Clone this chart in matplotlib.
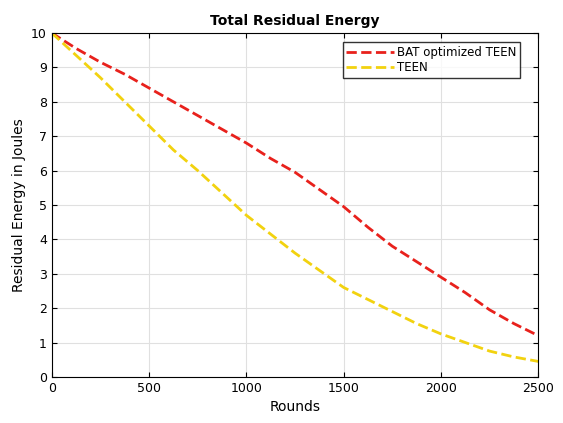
import matplotlib; matplotlib.use("Agg")
import matplotlib.pyplot as plt

rounds = [0, 125, 250, 375, 500, 625, 750, 875, 1000, 1125, 1250, 1375, 1500, 1625, 1750, 1875, 2000, 2125, 2250, 2375, 2500]
bat_teen = [10.0, 9.55, 9.15, 8.8, 8.4, 8.0, 7.6, 7.2, 6.8, 6.35, 5.95, 5.45, 4.95, 4.35, 3.8, 3.35, 2.9, 2.45, 1.95, 1.55, 1.2]
teen = [10.0, 9.35, 8.7, 8.0, 7.3, 6.6, 6.0, 5.35, 4.7, 4.15, 3.6, 3.1, 2.6, 2.25, 1.9, 1.55, 1.25, 1.0, 0.75, 0.58, 0.45]

fig = plt.figure(figsize=(5.63, 4.23), dpi=100)
ax = fig.add_axes([0.092, 0.109, 0.864, 0.813])
ax.plot(rounds, bat_teen, '--', color='#e8211c', lw=2, label='BAT optimized TEEN')
ax.plot(rounds, teen, '--', color='#f2d20f', lw=2, label='TEEN')
ax.set_xlim(0, 2500); ax.set_ylim(0, 10)
ax.set_xticks(range(0, 2501, 500)); ax.set_yticks(range(0, 11))
ax.grid(True, color='#e0e0e0', lw=0.8)
ax.tick_params(direction='in', top=True, right=True, labelsize=9)
ax.set_xlabel('Rounds', fontsize=10)
ax.set_ylabel('Residual Energy in Joules', fontsize=10)
ax.set_title('Total Residual Energy', fontsize=10, fontweight='bold')
ax.legend(loc='upper right', bbox_to_anchor=(0.975, 0.99), fontsize=8.5,
          fancybox=False, edgecolor='black', handlelength=4, borderpad=0.3,
          labelspacing=0.2, handletextpad=0.3)
fig.savefig('out.png', dpi=100)
